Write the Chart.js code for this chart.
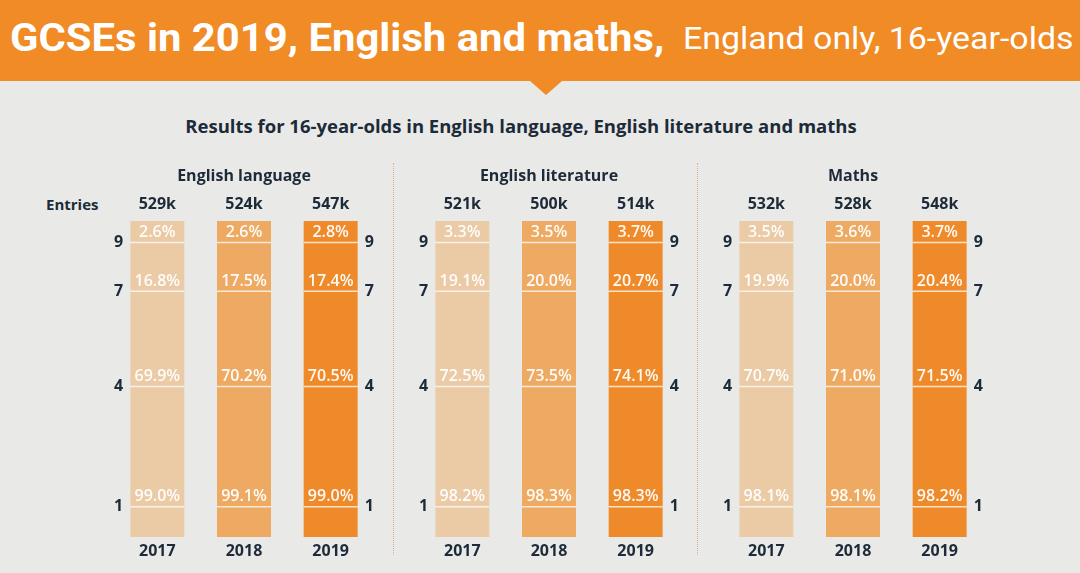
<!DOCTYPE html>
<html>
<head>
<meta charset="utf-8">
<script src="https://cdn.jsdelivr.net/npm/chart.js@4.4.0/dist/chart.umd.min.js"></script>
<style>
  body { margin: 0; width: 1080px; height: 573px; background: #e9eae8; overflow: hidden; position: relative; font-family: 'Open Sans', sans-serif; }
  .banner { position: absolute; left: 0; top: 0; width: 1080px; height: 81px; background: #f08b26; }
  .banner span { position: absolute; top: 15px; white-space: nowrap; font-family: Roboto, sans-serif; color: #fff; line-height: 46px; transform-origin: left center; }
  .banner .main { left: 10px; font-size: 38px; font-weight: 700; transform: scaleX(1.1); }
  .banner .rest { left: 683px; font-size: 32px; font-weight: 400; transform: scaleX(1.06); }
  .pointer { position: absolute; left: 530px; top: 81px; width: 0; height: 0; border-left: 16.5px solid transparent; border-right: 16.5px solid transparent; border-top: 14px solid #f08b26; }
  .sub { position: absolute; left: 0; top: 113px; width: 1042px; text-align: center; font-size: 18.5px; font-weight: 700; color: #1d2a38; }
  .entries { position: absolute; left: 46px; top: 194px; font-size: 15px; font-weight: 700; color: #1d2a38; }
  .sep { position: absolute; top: 163px; height: 392px; border-left: 1px dotted #dcb38c; }
  .grp { position: absolute; top: 155px; }
</style>
</head>
<body>
<div class="banner"><span class="main">GCSEs in 2019, English and maths,</span><span class="rest">England only, 16-year-olds</span></div>
<div class="pointer"></div>
<div class="sub">Results for 16-year-olds in English language, English literature and maths</div>
<div class="entries">Entries</div>
<div class="sep" style="left:393px"></div>
<div class="sep" style="left:697px"></div>
<canvas class="grp" id="c0" width="260" height="410" style="left:114px"></canvas>
<canvas class="grp" id="c1" width="260" height="410" style="left:419px"></canvas>
<canvas class="grp" id="c2" width="260" height="410" style="left:723px"></canvas>
<script>
const years = ['2017', '2018', '2019'];
const subjects = ['English language', 'English literature', 'Maths'];
const grades = ['9', '7', '4', '1'];
// where each grade boundary sits on the column (0 = bottom, 100 = top)
const gradePos = [93.2, 77.8, 47.6, 9.6];

// entries per year
const langEntries = ['529k', '524k', '547k'];
const litEntries = ['521k', '500k', '514k'];
const mathsEntries = ['532k', '528k', '548k'];

// cumulative % at grade 9, 7, 4, 1 or above, one row per year
const langPct = [[2.6, 16.8, 69.9, 99.0], [2.6, 17.5, 70.2, 99.1], [2.8, 17.4, 70.5, 99.0]];
const litPct = [[3.3, 19.1, 72.5, 98.2], [3.5, 20.0, 73.5, 98.3], [3.7, 20.7, 74.1, 98.3]];
const mathsPct = [[3.5, 19.9, 70.7, 98.1], [3.6, 20.0, 71.0, 98.1], [3.7, 20.4, 71.5, 98.2]];

const barColors = ['#ebcaa6', '#eeaa63', '#ef8a2a'];
const ink = '#1d2a38';

Chart.defaults.font.family = "'Open Sans', sans-serif";

// white boundary lines + percentage labels inside each column
const gradeLines = {
  id: 'gradeLines',
  afterDatasetsDraw(chart, args, opts) {
    const ctx = chart.ctx;
    const y = chart.scales.y;
    chart.getDatasetMeta(0).data.forEach((bar, i) => {
      const half = bar.width / 2;
      opts.values[i].forEach((v, g) => {
        const py = y.getPixelForValue(gradePos[g]);
        ctx.save();
        ctx.strokeStyle = 'rgba(255,255,255,0.75)';
        ctx.lineWidth = 1.5;
        ctx.beginPath();
        ctx.moveTo(bar.x - half, py);
        ctx.lineTo(bar.x + half, py);
        ctx.stroke();
        ctx.fillStyle = 'rgba(255,255,255,0.95)';
        ctx.font = "600 16px 'Open Sans'";
        ctx.textAlign = 'center';
        ctx.textBaseline = 'middle';
        ctx.fillText(v.toFixed(1) + '%', bar.x, py - 10);
        ctx.restore();
      });
    });
  }
};

function gradeAxis(position) {
  return {
    position: position,
    min: 0,
    max: 100,
    grid: { display: false, drawTicks: false },
    border: { display: false },
    afterBuildTicks: (s) => { s.ticks = gradePos.map(v => ({ value: v })); },
    ticks: {
      mirror: true,
      padding: 0,
      color: ink,
      font: { size: 16, weight: 'bold' },
      callback: (v) => grades[gradePos.indexOf(v)]
    }
  };
}

function makeChart(id, title, entries, pct) {
  new Chart(document.getElementById(id), {
    type: 'bar',
    data: {
      labels: years,
      datasets: [{
        data: years.map(() => [0, 100]),
        backgroundColor: barColors,
        borderWidth: 0,
        barPercentage: 0.623,
        categoryPercentage: 1,
        xAxisID: 'x',
        yAxisID: 'y'
      }]
    },
    options: {
      responsive: false,
      animation: false,
      layout: { padding: 0 },
      plugins: {
        legend: { display: false },
        tooltip: { enabled: false },
        title: {
          display: true,
          text: title,
          color: ink,
          font: { size: 16, weight: 'bold' },
          padding: { top: 12, bottom: 2.6 }
        },
        gradeLines: { values: pct }
      },
      scales: {
        x: {
          position: 'bottom',
          grid: { display: false, drawTicks: false },
          border: { display: false },
          ticks: { color: ink, font: { size: 16, weight: 'bold' }, padding: 4.4 }
        },
        xTop: {
          type: 'category',
          position: 'top',
          labels: entries,
          grid: { display: false, drawTicks: false },
          border: { display: false },
          ticks: { color: ink, font: { size: 16, weight: 'bold' }, padding: 6.5 }
        },
        y: gradeAxis('left'),
        yRight: gradeAxis('right')
      }
    },
    plugins: [gradeLines]
  });
}

makeChart('c0', subjects[0], langEntries, langPct);
makeChart('c1', subjects[1], litEntries, litPct);
makeChart('c2', subjects[2], mathsEntries, mathsPct);
</script>
</body>
</html>
